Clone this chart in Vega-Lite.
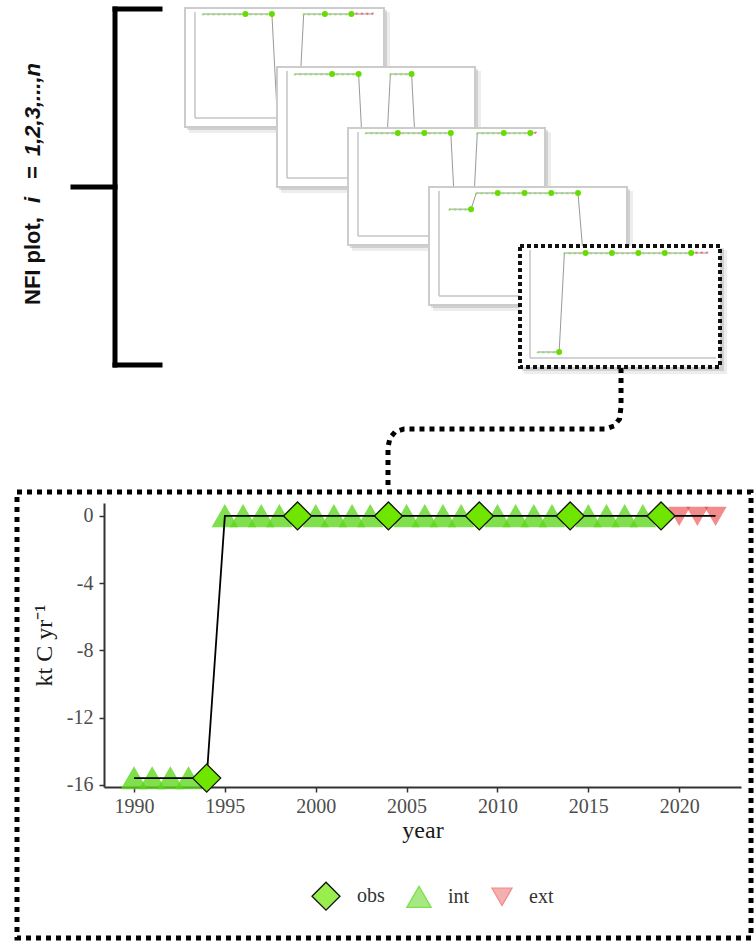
{
  "$schema": "https://vega.github.io/schema/vega-lite/v6.json",
  "width": 756,
  "height": 944,
  "padding": 0,
  "autosize": {"type": "none"},
  "background": "white",
  "config": {"view": {"stroke": null}},
  "datasets": {
    "bracket": [
      {"x": 115, "y": 9, "x2": 115, "y2": 365},
      {"x": 115, "y": 9, "x2": 160, "y2": 9},
      {"x": 115, "y": 365, "x2": 160, "y2": 365},
      {"x": 73, "y": 187, "x2": 115, "y2": 187}
    ],
    "lbl_n": [
      {"x": 40, "y": 305, "txt": "NFI plot, "},
      {"x": 40, "y": 179, "txt": "="}
    ],
    "lbl_i": [
      {"x": 40, "y": 203, "txt": "i"},
      {"x": 40, "y": 156, "txt": "1,2,3,...,n"}
    ],
    "conn": [
      {"o": 1, "x": 621, "y": 368},
      {"o": 2, "x": 621, "y": 407},
      {"o": 3, "x": 619.5, "y": 419},
      {"o": 4, "x": 614, "y": 426},
      {"o": 5, "x": 605, "y": 429},
      {"o": 6, "x": 404, "y": 429},
      {"o": 7, "x": 395, "y": 432},
      {"o": 8, "x": 390, "y": 438},
      {"o": 9, "x": 388, "y": 447},
      {"o": 10, "x": 388, "y": 490}
    ],
    "panels": [
      {"p": 1, "x": 185, "y": 8, "x2": 384, "y2": 127},
      {"p": 2, "x": 277, "y": 67, "x2": 475, "y2": 187},
      {"p": 3, "x": 348, "y": 128, "x2": 545, "y2": 245},
      {"p": 4, "x": 429, "y": 187, "x2": 627, "y2": 305},
      {"p": 5, "x": 520, "y": 246, "x2": 720, "y2": 367}
    ],
    "mini": [
      {"p": 1, "yr": 1990, "v": 0, "t": "int"}, {"p": 1, "yr": 1991, "v": 0, "t": "int"}, {"p": 1, "yr": 1992, "v": 0, "t": "int"}, {"p": 1, "yr": 1993, "v": 0, "t": "int"},
      {"p": 1, "yr": 1994, "v": 0, "t": "int"}, {"p": 1, "yr": 1995, "v": 0, "t": "int"}, {"p": 1, "yr": 1996, "v": 0, "t": "int"}, {"p": 1, "yr": 1997, "v": 0, "t": "int"},
      {"p": 1, "yr": 1998, "v": 0, "t": "obs"}, {"p": 1, "yr": 1999, "v": 0, "t": "int"}, {"p": 1, "yr": 2000, "v": 0, "t": "int"}, {"p": 1, "yr": 2001, "v": 0, "t": "int"},
      {"p": 1, "yr": 2002, "v": 0, "t": "int"}, {"p": 1, "yr": 2003, "v": 0, "t": "obs"}, {"p": 1, "yr": 2004, "v": -15, "t": "int"}, {"p": 1, "yr": 2005, "v": -15, "t": "int"},
      {"p": 1, "yr": 2006, "v": -15, "t": "int"}, {"p": 1, "yr": 2007, "v": -15, "t": "int"}, {"p": 1, "yr": 2008, "v": -15, "t": "int"}, {"p": 1, "yr": 2009, "v": 0, "t": "int"},
      {"p": 1, "yr": 2010, "v": 0, "t": "int"}, {"p": 1, "yr": 2011, "v": 0, "t": "int"}, {"p": 1, "yr": 2012, "v": 0, "t": "int"}, {"p": 1, "yr": 2013, "v": 0, "t": "obs"},
      {"p": 1, "yr": 2014, "v": 0, "t": "int"}, {"p": 1, "yr": 2015, "v": 0, "t": "int"}, {"p": 1, "yr": 2016, "v": 0, "t": "int"}, {"p": 1, "yr": 2017, "v": 0, "t": "int"},
      {"p": 1, "yr": 2018, "v": 0, "t": "obs"}, {"p": 1, "yr": 2019, "v": 0, "t": "ext"}, {"p": 1, "yr": 2020, "v": 0, "t": "ext"}, {"p": 1, "yr": 2021, "v": 0, "t": "ext"},
      {"p": 1, "yr": 2022, "v": 0, "t": "ext"},
      {"p": 2, "yr": 1990, "v": 0, "t": "int"}, {"p": 2, "yr": 1991, "v": 0, "t": "int"}, {"p": 2, "yr": 1992, "v": 0, "t": "int"}, {"p": 2, "yr": 1993, "v": 0, "t": "int"},
      {"p": 2, "yr": 1994, "v": 0, "t": "int"}, {"p": 2, "yr": 1995, "v": 0, "t": "int"}, {"p": 2, "yr": 1996, "v": 0, "t": "int"}, {"p": 2, "yr": 1997, "v": 0, "t": "obs"},
      {"p": 2, "yr": 1998, "v": 0, "t": "int"}, {"p": 2, "yr": 1999, "v": 0, "t": "int"}, {"p": 2, "yr": 2000, "v": 0, "t": "int"}, {"p": 2, "yr": 2001, "v": 0, "t": "int"},
      {"p": 2, "yr": 2002, "v": 0, "t": "obs"}, {"p": 2, "yr": 2003, "v": -15, "t": "int"}, {"p": 2, "yr": 2004, "v": -15, "t": "int"}, {"p": 2, "yr": 2005, "v": -15, "t": "int"},
      {"p": 2, "yr": 2006, "v": -15, "t": "int"}, {"p": 2, "yr": 2007, "v": -15, "t": "int"}, {"p": 2, "yr": 2008, "v": 0, "t": "int"}, {"p": 2, "yr": 2009, "v": 0, "t": "int"},
      {"p": 2, "yr": 2010, "v": 0, "t": "int"}, {"p": 2, "yr": 2011, "v": 0, "t": "int"}, {"p": 2, "yr": 2012, "v": 0, "t": "obs"}, {"p": 2, "yr": 2013, "v": -15, "t": "int"},
      {"p": 2, "yr": 2014, "v": -15, "t": "int"}, {"p": 2, "yr": 2015, "v": -15, "t": "int"}, {"p": 2, "yr": 2016, "v": -15, "t": "int"}, {"p": 2, "yr": 2017, "v": -15, "t": "int"},
      {"p": 2, "yr": 2018, "v": -15, "t": "int"}, {"p": 2, "yr": 2019, "v": -15, "t": "int"}, {"p": 2, "yr": 2020, "v": -15, "t": "int"}, {"p": 2, "yr": 2021, "v": -15, "t": "int"},
      {"p": 2, "yr": 2022, "v": -15, "t": "int"},
      {"p": 3, "yr": 1990, "v": 0, "t": "int"}, {"p": 3, "yr": 1991, "v": 0, "t": "int"}, {"p": 3, "yr": 1992, "v": 0, "t": "int"}, {"p": 3, "yr": 1993, "v": 0, "t": "int"},
      {"p": 3, "yr": 1994, "v": 0, "t": "int"}, {"p": 3, "yr": 1995, "v": 0, "t": "int"}, {"p": 3, "yr": 1996, "v": 0, "t": "obs"}, {"p": 3, "yr": 1997, "v": 0, "t": "int"},
      {"p": 3, "yr": 1998, "v": 0, "t": "int"}, {"p": 3, "yr": 1999, "v": 0, "t": "int"}, {"p": 3, "yr": 2000, "v": 0, "t": "int"}, {"p": 3, "yr": 2001, "v": 0, "t": "obs"},
      {"p": 3, "yr": 2002, "v": 0, "t": "int"}, {"p": 3, "yr": 2003, "v": 0, "t": "int"}, {"p": 3, "yr": 2004, "v": 0, "t": "int"}, {"p": 3, "yr": 2005, "v": 0, "t": "int"},
      {"p": 3, "yr": 2006, "v": 0, "t": "obs"}, {"p": 3, "yr": 2007, "v": -15, "t": "int"}, {"p": 3, "yr": 2008, "v": -15, "t": "int"}, {"p": 3, "yr": 2009, "v": -15, "t": "int"},
      {"p": 3, "yr": 2010, "v": -15, "t": "int"}, {"p": 3, "yr": 2011, "v": 0, "t": "int"}, {"p": 3, "yr": 2012, "v": 0, "t": "int"}, {"p": 3, "yr": 2013, "v": 0, "t": "int"},
      {"p": 3, "yr": 2014, "v": 0, "t": "int"}, {"p": 3, "yr": 2015, "v": 0, "t": "int"}, {"p": 3, "yr": 2016, "v": 0, "t": "obs"}, {"p": 3, "yr": 2017, "v": 0, "t": "int"},
      {"p": 3, "yr": 2018, "v": 0, "t": "int"}, {"p": 3, "yr": 2019, "v": 0, "t": "int"}, {"p": 3, "yr": 2020, "v": 0, "t": "int"}, {"p": 3, "yr": 2021, "v": 0, "t": "obs"},
      {"p": 3, "yr": 2022, "v": 0, "t": "ext"},
      {"p": 4, "yr": 1990, "v": -2.5, "t": "int"}, {"p": 4, "yr": 1991, "v": -2.5, "t": "int"}, {"p": 4, "yr": 1992, "v": -2.5, "t": "int"}, {"p": 4, "yr": 1993, "v": -2.5, "t": "int"},
      {"p": 4, "yr": 1994, "v": -2.5, "t": "obs"}, {"p": 4, "yr": 1995, "v": 0, "t": "int"}, {"p": 4, "yr": 1996, "v": 0, "t": "int"}, {"p": 4, "yr": 1997, "v": 0, "t": "int"},
      {"p": 4, "yr": 1998, "v": 0, "t": "int"}, {"p": 4, "yr": 1999, "v": 0, "t": "obs"}, {"p": 4, "yr": 2000, "v": 0, "t": "int"}, {"p": 4, "yr": 2001, "v": 0, "t": "int"},
      {"p": 4, "yr": 2002, "v": 0, "t": "int"}, {"p": 4, "yr": 2003, "v": 0, "t": "int"}, {"p": 4, "yr": 2004, "v": 0, "t": "obs"}, {"p": 4, "yr": 2005, "v": 0, "t": "int"},
      {"p": 4, "yr": 2006, "v": 0, "t": "int"}, {"p": 4, "yr": 2007, "v": 0, "t": "int"}, {"p": 4, "yr": 2008, "v": 0, "t": "int"}, {"p": 4, "yr": 2009, "v": 0, "t": "obs"},
      {"p": 4, "yr": 2010, "v": 0, "t": "int"}, {"p": 4, "yr": 2011, "v": 0, "t": "int"}, {"p": 4, "yr": 2012, "v": 0, "t": "int"}, {"p": 4, "yr": 2013, "v": 0, "t": "int"},
      {"p": 4, "yr": 2014, "v": 0, "t": "obs"}, {"p": 4, "yr": 2015, "v": -10, "t": "int"}, {"p": 4, "yr": 2016, "v": -10, "t": "int"}, {"p": 4, "yr": 2017, "v": -10, "t": "int"},
      {"p": 4, "yr": 2018, "v": -10, "t": "int"}, {"p": 4, "yr": 2019, "v": -10, "t": "int"}, {"p": 4, "yr": 2020, "v": -10, "t": "int"}, {"p": 4, "yr": 2021, "v": -10, "t": "int"},
      {"p": 4, "yr": 2022, "v": -10, "t": "int"}
    ],
    "main": [
      {"yr": 1990, "v": -15.6, "t": "int"}, {"yr": 1991, "v": -15.6, "t": "int"}, {"yr": 1992, "v": -15.6, "t": "int"}, {"yr": 1993, "v": -15.6, "t": "int"},
      {"yr": 1994, "v": -15.6, "t": "obs"}, {"yr": 1995, "v": 0, "t": "int"}, {"yr": 1996, "v": 0, "t": "int"}, {"yr": 1997, "v": 0, "t": "int"},
      {"yr": 1998, "v": 0, "t": "int"}, {"yr": 1999, "v": 0, "t": "obs"}, {"yr": 2000, "v": 0, "t": "int"}, {"yr": 2001, "v": 0, "t": "int"},
      {"yr": 2002, "v": 0, "t": "int"}, {"yr": 2003, "v": 0, "t": "int"}, {"yr": 2004, "v": 0, "t": "obs"}, {"yr": 2005, "v": 0, "t": "int"},
      {"yr": 2006, "v": 0, "t": "int"}, {"yr": 2007, "v": 0, "t": "int"}, {"yr": 2008, "v": 0, "t": "int"}, {"yr": 2009, "v": 0, "t": "obs"},
      {"yr": 2010, "v": 0, "t": "int"}, {"yr": 2011, "v": 0, "t": "int"}, {"yr": 2012, "v": 0, "t": "int"}, {"yr": 2013, "v": 0, "t": "int"},
      {"yr": 2014, "v": 0, "t": "obs"}, {"yr": 2015, "v": 0, "t": "int"}, {"yr": 2016, "v": 0, "t": "int"}, {"yr": 2017, "v": 0, "t": "int"},
      {"yr": 2018, "v": 0, "t": "int"}, {"yr": 2019, "v": 0, "t": "obs"}, {"yr": 2020, "v": 0, "t": "ext"}, {"yr": 2021, "v": 0, "t": "ext"},
      {"yr": 2022, "v": 0, "t": "ext"}
    ]
  },
  "resolve": {"scale": {"x": "independent", "y": "independent"}},
  "layer": [
    {
      "data": {"name": "bracket"},
      "mark": {"type": "rule", "color": "black", "strokeWidth": 5, "strokeCap": "square"},
      "encoding": {
        "x": {"field": "x", "type": "quantitative", "scale": {"domain": [0, 756], "range": [0, 756], "nice": false, "zero": false}, "axis": null},
        "y": {"field": "y", "type": "quantitative", "scale": {"domain": [0, 944], "range": [0, 944], "nice": false, "zero": false}, "axis": null},
        "x2": {"field": "x2"},
        "y2": {"field": "y2"}
      }
    },
    {
      "data": {"name": "lbl_n"},
      "mark": {"type": "text", "angle": 270, "align": "left", "baseline": "alphabetic", "font": "Liberation Sans", "fontSize": 22, "fontWeight": "bold", "color": "#111111"},
      "encoding": {
        "x": {"field": "x", "type": "quantitative", "scale": {"domain": [0, 756], "range": [0, 756], "nice": false, "zero": false}, "axis": null},
        "y": {"field": "y", "type": "quantitative", "scale": {"domain": [0, 944], "range": [0, 944], "nice": false, "zero": false}, "axis": null},
        "text": {"field": "txt"}
      }
    },
    {
      "data": {"name": "lbl_i"},
      "mark": {"type": "text", "angle": 270, "align": "left", "baseline": "alphabetic", "font": "Liberation Sans", "fontSize": 22, "fontWeight": "bold", "fontStyle": "italic", "color": "#111111"},
      "encoding": {
        "x": {"field": "x", "type": "quantitative", "scale": {"domain": [0, 756], "range": [0, 756], "nice": false, "zero": false}, "axis": null},
        "y": {"field": "y", "type": "quantitative", "scale": {"domain": [0, 944], "range": [0, 944], "nice": false, "zero": false}, "axis": null},
        "text": {"field": "txt"}
      }
    },
    {
      "data": {"name": "conn"},
      "mark": {"type": "line", "color": "black", "strokeWidth": 5, "strokeDash": [5, 5], "strokeCap": "butt"},
      "encoding": {
        "x": {"field": "x", "type": "quantitative", "scale": {"domain": [0, 756], "range": [0, 756], "nice": false, "zero": false}, "axis": null},
        "y": {"field": "y", "type": "quantitative", "scale": {"domain": [0, 944], "range": [0, 944], "nice": false, "zero": false}, "axis": null},
        "order": {"field": "o", "type": "quantitative"}
      }
    },
    {
      "resolve": {"scale": {"x": "independent", "y": "independent"}},
      "layer": [
        {
          "data": {"name": "panels"},
          "transform": [{"filter": "datum.p == 1"}],
          "encoding": {
            "x": {"field": "x", "type": "quantitative", "scale": {"domain": [0, 756], "range": [0, 756], "nice": false, "zero": false}, "axis": null},
            "y": {"field": "y", "type": "quantitative", "scale": {"domain": [0, 944], "range": [0, 944], "nice": false, "zero": false}, "axis": null}
          },
          "layer": [
            {"mark": {"type": "rect", "fill": "#000000", "opacity": 0.07, "xOffset": 4, "x2Offset": 6, "yOffset": 4, "y2Offset": 6}, "encoding": {"x2": {"field": "x2"}, "y2": {"field": "y2"}}},
            {"mark": {"type": "rect", "fill": "#000000", "opacity": 0.12, "xOffset": 2, "x2Offset": 3, "yOffset": 2, "y2Offset": 3}, "encoding": {"x2": {"field": "x2"}, "y2": {"field": "y2"}}},
            {"mark": {"type": "rect", "fill": "white", "stroke": "#cccccc", "strokeWidth": 2}, "encoding": {"x2": {"field": "x2"}, "y2": {"field": "y2"}}},
            {"mark": {"type": "rule", "color": "#c4c4c4", "strokeWidth": 1.5, "xOffset": 10, "yOffset": 4, "y2Offset": -9}, "encoding": {"y2": {"field": "y2"}}},
            {"mark": {"type": "rule", "color": "#c4c4c4", "strokeWidth": 1.5, "xOffset": 10, "x2Offset": -3, "yOffset": -9}, "encoding": {"x2": {"field": "x2"}, "y": {"field": "y2", "type": "quantitative", "scale": {"domain": [0, 944], "range": [0, 944], "nice": false, "zero": false}, "axis": null}}}
          ]
        },
        {
          "data": {"name": "mini"},
          "transform": [{"filter": "datum.p == 1"}],
          "encoding": {
            "x": {"field": "yr", "type": "quantitative", "scale": {"domain": [1990, 2022], "range": [203, 372.6], "nice": false, "zero": false}, "axis": null},
            "y": {"field": "v", "type": "quantitative", "scale": {"domain": [-15, 0], "range": [115, 14], "nice": false, "zero": false}, "axis": null}
          },
          "layer": [
            {"mark": {"type": "line", "color": "#8c8c8c", "strokeWidth": 0.9}},
            {"transform": [{"filter": "datum.t == 'int'"}], "mark": {"type": "point", "shape": "triangle-up", "filled": true, "size": 10, "color": "#8fdf5f", "opacity": 1}},
            {"transform": [{"filter": "datum.t == 'ext'"}], "mark": {"type": "point", "shape": "triangle-down", "filled": true, "size": 10, "color": "#f06a6a", "opacity": 1}},
            {"transform": [{"filter": "datum.t == 'obs'"}], "mark": {"type": "circle", "size": 36, "color": "#66dd00", "opacity": 1}}
          ]
        }
      ]
    },
    {
      "resolve": {"scale": {"x": "independent", "y": "independent"}},
      "layer": [
        {
          "data": {"name": "panels"},
          "transform": [{"filter": "datum.p == 2"}],
          "encoding": {
            "x": {"field": "x", "type": "quantitative", "scale": {"domain": [0, 756], "range": [0, 756], "nice": false, "zero": false}, "axis": null},
            "y": {"field": "y", "type": "quantitative", "scale": {"domain": [0, 944], "range": [0, 944], "nice": false, "zero": false}, "axis": null}
          },
          "layer": [
            {"mark": {"type": "rect", "fill": "#000000", "opacity": 0.07, "xOffset": 4, "x2Offset": 6, "yOffset": 4, "y2Offset": 6}, "encoding": {"x2": {"field": "x2"}, "y2": {"field": "y2"}}},
            {"mark": {"type": "rect", "fill": "#000000", "opacity": 0.12, "xOffset": 2, "x2Offset": 3, "yOffset": 2, "y2Offset": 3}, "encoding": {"x2": {"field": "x2"}, "y2": {"field": "y2"}}},
            {"mark": {"type": "rect", "fill": "white", "stroke": "#cccccc", "strokeWidth": 2}, "encoding": {"x2": {"field": "x2"}, "y2": {"field": "y2"}}},
            {"mark": {"type": "rule", "color": "#c4c4c4", "strokeWidth": 1.5, "xOffset": 10, "yOffset": 4, "y2Offset": -9}, "encoding": {"y2": {"field": "y2"}}},
            {"mark": {"type": "rule", "color": "#c4c4c4", "strokeWidth": 1.5, "xOffset": 10, "x2Offset": -3, "yOffset": -9}, "encoding": {"x2": {"field": "x2"}, "y": {"field": "y2", "type": "quantitative", "scale": {"domain": [0, 944], "range": [0, 944], "nice": false, "zero": false}, "axis": null}}}
          ]
        },
        {
          "data": {"name": "mini"},
          "transform": [{"filter": "datum.p == 2"}],
          "encoding": {
            "x": {"field": "yr", "type": "quantitative", "scale": {"domain": [1990, 2022], "range": [295, 464.6], "nice": false, "zero": false}, "axis": null},
            "y": {"field": "v", "type": "quantitative", "scale": {"domain": [-15, 0], "range": [175, 74], "nice": false, "zero": false}, "axis": null}
          },
          "layer": [
            {"mark": {"type": "line", "color": "#8c8c8c", "strokeWidth": 0.9}},
            {"transform": [{"filter": "datum.t == 'int'"}], "mark": {"type": "point", "shape": "triangle-up", "filled": true, "size": 10, "color": "#8fdf5f", "opacity": 1}},
            {"transform": [{"filter": "datum.t == 'ext'"}], "mark": {"type": "point", "shape": "triangle-down", "filled": true, "size": 10, "color": "#f06a6a", "opacity": 1}},
            {"transform": [{"filter": "datum.t == 'obs'"}], "mark": {"type": "circle", "size": 36, "color": "#66dd00", "opacity": 1}}
          ]
        }
      ]
    },
    {
      "resolve": {"scale": {"x": "independent", "y": "independent"}},
      "layer": [
        {
          "data": {"name": "panels"},
          "transform": [{"filter": "datum.p == 3"}],
          "encoding": {
            "x": {"field": "x", "type": "quantitative", "scale": {"domain": [0, 756], "range": [0, 756], "nice": false, "zero": false}, "axis": null},
            "y": {"field": "y", "type": "quantitative", "scale": {"domain": [0, 944], "range": [0, 944], "nice": false, "zero": false}, "axis": null}
          },
          "layer": [
            {"mark": {"type": "rect", "fill": "#000000", "opacity": 0.07, "xOffset": 4, "x2Offset": 6, "yOffset": 4, "y2Offset": 6}, "encoding": {"x2": {"field": "x2"}, "y2": {"field": "y2"}}},
            {"mark": {"type": "rect", "fill": "#000000", "opacity": 0.12, "xOffset": 2, "x2Offset": 3, "yOffset": 2, "y2Offset": 3}, "encoding": {"x2": {"field": "x2"}, "y2": {"field": "y2"}}},
            {"mark": {"type": "rect", "fill": "white", "stroke": "#cccccc", "strokeWidth": 2}, "encoding": {"x2": {"field": "x2"}, "y2": {"field": "y2"}}},
            {"mark": {"type": "rule", "color": "#c4c4c4", "strokeWidth": 1.5, "xOffset": 10, "yOffset": 4, "y2Offset": -9}, "encoding": {"y2": {"field": "y2"}}},
            {"mark": {"type": "rule", "color": "#c4c4c4", "strokeWidth": 1.5, "xOffset": 10, "x2Offset": -3, "yOffset": -9}, "encoding": {"x2": {"field": "x2"}, "y": {"field": "y2", "type": "quantitative", "scale": {"domain": [0, 944], "range": [0, 944], "nice": false, "zero": false}, "axis": null}}}
          ]
        },
        {
          "data": {"name": "mini"},
          "transform": [{"filter": "datum.p == 3"}],
          "encoding": {
            "x": {"field": "yr", "type": "quantitative", "scale": {"domain": [1990, 2022], "range": [366, 535.6], "nice": false, "zero": false}, "axis": null},
            "y": {"field": "v", "type": "quantitative", "scale": {"domain": [-15, 0], "range": [235, 133], "nice": false, "zero": false}, "axis": null}
          },
          "layer": [
            {"mark": {"type": "line", "color": "#8c8c8c", "strokeWidth": 0.9}},
            {"transform": [{"filter": "datum.t == 'int'"}], "mark": {"type": "point", "shape": "triangle-up", "filled": true, "size": 10, "color": "#8fdf5f", "opacity": 1}},
            {"transform": [{"filter": "datum.t == 'ext'"}], "mark": {"type": "point", "shape": "triangle-down", "filled": true, "size": 10, "color": "#f06a6a", "opacity": 1}},
            {"transform": [{"filter": "datum.t == 'obs'"}], "mark": {"type": "circle", "size": 36, "color": "#66dd00", "opacity": 1}}
          ]
        }
      ]
    },
    {
      "resolve": {"scale": {"x": "independent", "y": "independent"}},
      "layer": [
        {
          "data": {"name": "panels"},
          "transform": [{"filter": "datum.p == 4"}],
          "encoding": {
            "x": {"field": "x", "type": "quantitative", "scale": {"domain": [0, 756], "range": [0, 756], "nice": false, "zero": false}, "axis": null},
            "y": {"field": "y", "type": "quantitative", "scale": {"domain": [0, 944], "range": [0, 944], "nice": false, "zero": false}, "axis": null}
          },
          "layer": [
            {"mark": {"type": "rect", "fill": "#000000", "opacity": 0.07, "xOffset": 4, "x2Offset": 6, "yOffset": 4, "y2Offset": 6}, "encoding": {"x2": {"field": "x2"}, "y2": {"field": "y2"}}},
            {"mark": {"type": "rect", "fill": "#000000", "opacity": 0.12, "xOffset": 2, "x2Offset": 3, "yOffset": 2, "y2Offset": 3}, "encoding": {"x2": {"field": "x2"}, "y2": {"field": "y2"}}},
            {"mark": {"type": "rect", "fill": "white", "stroke": "#cccccc", "strokeWidth": 2}, "encoding": {"x2": {"field": "x2"}, "y2": {"field": "y2"}}},
            {"mark": {"type": "rule", "color": "#c4c4c4", "strokeWidth": 1.5, "xOffset": 10, "yOffset": 4, "y2Offset": -9}, "encoding": {"y2": {"field": "y2"}}},
            {"mark": {"type": "rule", "color": "#c4c4c4", "strokeWidth": 1.5, "xOffset": 10, "x2Offset": -3, "yOffset": -9}, "encoding": {"x2": {"field": "x2"}, "y": {"field": "y2", "type": "quantitative", "scale": {"domain": [0, 944], "range": [0, 944], "nice": false, "zero": false}, "axis": null}}}
          ]
        },
        {
          "data": {"name": "mini"},
          "transform": [{"filter": "datum.p == 4"}],
          "encoding": {
            "x": {"field": "yr", "type": "quantitative", "scale": {"domain": [1990, 2022], "range": [449.6, 620.8], "nice": false, "zero": false}, "axis": null},
            "y": {"field": "v", "type": "quantitative", "scale": {"domain": [-15, 0], "range": [290, 193], "nice": false, "zero": false}, "axis": null}
          },
          "layer": [
            {"mark": {"type": "line", "color": "#8c8c8c", "strokeWidth": 0.9}},
            {"transform": [{"filter": "datum.t == 'int'"}], "mark": {"type": "point", "shape": "triangle-up", "filled": true, "size": 10, "color": "#8fdf5f", "opacity": 1}},
            {"transform": [{"filter": "datum.t == 'obs'"}], "mark": {"type": "circle", "size": 36, "color": "#66dd00", "opacity": 1}}
          ]
        }
      ]
    },
    {
      "resolve": {"scale": {"x": "independent", "y": "independent"}},
      "layer": [
        {
          "data": {"name": "panels"},
          "transform": [{"filter": "datum.p == 5"}],
          "encoding": {
            "x": {"field": "x", "type": "quantitative", "scale": {"domain": [0, 756], "range": [0, 756], "nice": false, "zero": false}, "axis": null},
            "y": {"field": "y", "type": "quantitative", "scale": {"domain": [0, 944], "range": [0, 944], "nice": false, "zero": false}, "axis": null}
          },
          "layer": [
            {"mark": {"type": "rect", "fill": "#000000", "opacity": 0.07, "xOffset": 4, "x2Offset": 7, "yOffset": 4, "y2Offset": 7}, "encoding": {"x2": {"field": "x2"}, "y2": {"field": "y2"}}},
            {"mark": {"type": "rect", "fill": "#000000", "opacity": 0.12, "xOffset": 2, "x2Offset": 4, "yOffset": 2, "y2Offset": 4}, "encoding": {"x2": {"field": "x2"}, "y2": {"field": "y2"}}},
            {"mark": {"type": "rect", "fill": "white", "stroke": "#111111", "strokeWidth": 4, "strokeDash": [4, 3]}, "encoding": {"x2": {"field": "x2"}, "y2": {"field": "y2"}}},
            {"mark": {"type": "rule", "color": "#c4c4c4", "strokeWidth": 1.5, "xOffset": 10, "yOffset": 4, "y2Offset": -9}, "encoding": {"y2": {"field": "y2"}}},
            {"mark": {"type": "rule", "color": "#c4c4c4", "strokeWidth": 1.5, "xOffset": 10, "x2Offset": -4, "yOffset": -9}, "encoding": {"x2": {"field": "x2"}, "y": {"field": "y2", "type": "quantitative", "scale": {"domain": [0, 944], "range": [0, 944], "nice": false, "zero": false}, "axis": null}}}
          ]
        },
        {
          "data": {"name": "main"},
          "encoding": {
            "x": {"field": "yr", "type": "quantitative", "scale": {"domain": [1990, 2022], "range": [538, 707], "nice": false, "zero": false}, "axis": null},
            "y": {"field": "v", "type": "quantitative", "scale": {"domain": [-15.6, 0], "range": [352, 253], "nice": false, "zero": false}, "axis": null}
          },
          "layer": [
            {"mark": {"type": "line", "color": "#8c8c8c", "strokeWidth": 0.9}},
            {"transform": [{"filter": "datum.t == 'int'"}], "mark": {"type": "point", "shape": "triangle-up", "filled": true, "size": 10, "color": "#8fdf5f", "opacity": 1}},
            {"transform": [{"filter": "datum.t == 'ext'"}], "mark": {"type": "point", "shape": "triangle-down", "filled": true, "size": 10, "color": "#f06a6a", "opacity": 1}},
            {"transform": [{"filter": "datum.t == 'obs'"}], "mark": {"type": "circle", "size": 36, "color": "#66dd00", "opacity": 1}}
          ]
        }
      ]
    },
    {
      "data": {"values": [{"x": 17, "y": 492, "x2": 751, "y2": 938}]},
      "mark": {"type": "rect", "fillOpacity": 0, "stroke": "black", "strokeWidth": 5, "strokeDash": [5, 5]},
      "encoding": {
        "x": {"field": "x", "type": "quantitative", "scale": {"domain": [0, 756], "range": [0, 756], "nice": false, "zero": false}, "axis": null},
        "y": {"field": "y", "type": "quantitative", "scale": {"domain": [0, 944], "range": [0, 944], "nice": false, "zero": false}, "axis": null},
        "x2": {"field": "x2"},
        "y2": {"field": "y2"}
      }
    },
    {
      "data": {"name": "main"},
      "encoding": {
        "x": {
          "field": "yr", "type": "quantitative",
          "scale": {"domain": [1988.35, 2023.4], "range": [104, 741], "nice": false, "zero": false},
          "axis": {"title": "year", "values": [1990, 1995, 2000, 2005, 2010, 2015, 2020], "format": "d", "offset": -157, "grid": false,
            "domainColor": "#333333", "domainWidth": 2, "tickColor": "#333333", "tickWidth": 1.5, "tickSize": 5,
            "labelColor": "#4d4d4d", "labelFont": "Liberation Serif", "labelFontSize": 20, "labelPadding": 4, "labelFlush": false, "labelOverlap": false,
            "titleFont": "Liberation Serif", "titleFontSize": 24, "titleFontWeight": "normal", "titleColor": "#1a1a1a", "titlePadding": 2}
        },
        "y": {
          "field": "v", "type": "quantitative",
          "scale": {"domain": [-16.13, 0.77], "range": [787, 503], "nice": false, "zero": false},
          "axis": {"title": "kt C yr⁻¹", "values": [0, -4, -8, -12, -16], "labelExpr": "'' + datum.value", "offset": -104, "grid": false,
            "domainColor": "#333333", "domainWidth": 2, "tickColor": "#333333", "tickWidth": 1.5, "tickSize": 5,
            "labelColor": "#4d4d4d", "labelFont": "Liberation Serif", "labelFontSize": 20, "labelPadding": 6, "labelFlush": false, "labelOverlap": false,
            "titleFont": "Liberation Serif", "titleFontSize": 24, "titleFontWeight": "normal", "titleColor": "#1a1a1a", "titlePadding": 10}
        }
      },
      "layer": [
        {
          "transform": [{"filter": "datum.t != 'obs'"}],
          "mark": {"type": "point", "filled": true, "strokeWidth": 1.3},
          "encoding": {
            "shape": {"field": "t", "type": "nominal", "title": null, "scale": {"domain": ["obs", "int", "ext"], "range": ["diamond", "triangle-up", "triangle-down"]},
              "legend": {"orient": "none", "legendX": 311, "legendY": 881, "direction": "horizontal", "title": null, "padding": 0,
                "labelFont": "Liberation Serif", "labelFontSize": 20, "labelColor": "#333333", "labelOffset": 16, "columnPadding": 19, "symbolStrokeWidth": 1.3}},
            "fill": {"field": "t", "type": "nominal", "title": null, "scale": {"domain": ["obs", "int", "ext"], "range": ["#6ee600", "#5cd61a", "#e83030"]}},
            "stroke": {"field": "t", "type": "nominal", "title": null, "scale": {"domain": ["obs", "int", "ext"], "range": ["#111111", "#5cd61a", "#e83030"]}},
            "size": {"field": "t", "type": "nominal", "title": null, "scale": {"domain": ["obs", "int", "ext"], "range": [784, 400, 400]}},
            "opacity": {"field": "t", "type": "nominal", "title": null, "scale": {"domain": ["obs", "int", "ext"], "range": [1, 0.55, 0.55]}}
          }
        },
        {"mark": {"type": "line", "color": "black", "strokeWidth": 1.8}},
        {
          "transform": [{"filter": "datum.t == 'obs'"}],
          "mark": {"type": "point", "filled": true, "strokeWidth": 1.3},
          "encoding": {
            "shape": {"field": "t", "type": "nominal", "title": null, "scale": {"domain": ["obs", "int", "ext"], "range": ["diamond", "triangle-up", "triangle-down"]}},
            "fill": {"field": "t", "type": "nominal", "title": null, "scale": {"domain": ["obs", "int", "ext"], "range": ["#6ee600", "#5cd61a", "#e83030"]}},
            "stroke": {"field": "t", "type": "nominal", "title": null, "scale": {"domain": ["obs", "int", "ext"], "range": ["#111111", "#5cd61a", "#e83030"]}},
            "size": {"field": "t", "type": "nominal", "title": null, "scale": {"domain": ["obs", "int", "ext"], "range": [784, 400, 400]}},
            "opacity": {"field": "t", "type": "nominal", "title": null, "scale": {"domain": ["obs", "int", "ext"], "range": [1, 0.55, 0.55]}}
          }
        }
      ]
    }
  ]
}
